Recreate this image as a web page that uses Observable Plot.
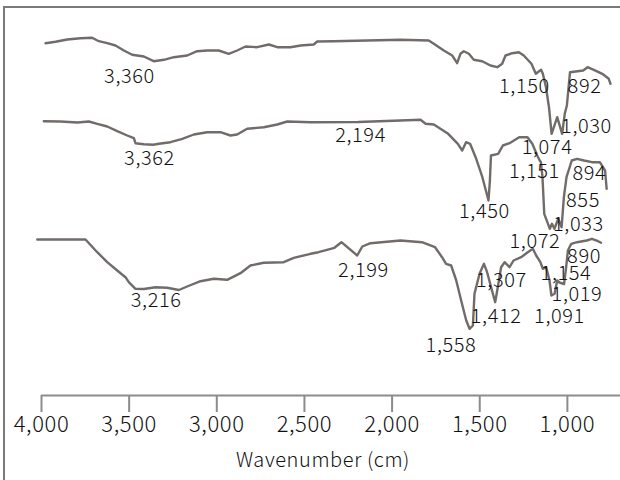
<!DOCTYPE html>
<html>
<head>
<meta charset="utf-8">
<script src="https://cdn.jsdelivr.net/npm/d3@7"></script>
<script src="https://cdn.jsdelivr.net/npm/@observablehq/plot@0.6"></script>
<style>
  html, body { margin: 0; padding: 0; background: #fff; }
  #wrap { position: relative; width: 620px; height: 480px; overflow: hidden; }
  #wrap svg { position: absolute; left: 0; top: 0; }
  #wrap svg text { font-weight: 300; letter-spacing: 0.6px; }
  #edge { position: absolute; left: 3px; top: 6px; width: 640px; height: 500px;
          border-top: 2px solid #7a7a7a; border-left: 2px solid #7a7a7a; pointer-events: none; }
</style>
</head>
<body>
<div id="wrap"><div id="edge"></div></div>
<script>
// FT-IR spectra: [wavenumber (cm-1), transmittance offset]
const spectrumTop = [
  [3977,352.3],[3920,353.7],[3853,356],[3778,357.3],[3711,357.7],[3673,354.3],[3625,352.3],
  [3578,350],[3530,345],[3483,340.7],[3416,339],[3360,334.3],[3302,335.7],[3245,338.3],
  [3169,340],[3112,344.3],[3055,345],[2989,345],[2932,341.7],[2884,345],[2836,349],
  [2770,348.3],[2703,351],[2655,348.3],[2580,348.3],[2522,350],[2447,351],[2427,354],
  [2334,354.3],[2142,355],[1952,355.7],[1791,355],[1762,351.7],[1705,345],[1657,340],
  [1629,332.3],[1610,341.7],[1591,344.3],[1562,341.7],[1534,335.7],[1486,334.3],[1439,330],
  [1400,328.3],[1372,331.7],[1353,340],[1315,342.3],[1277,343.3],[1249,340],[1205,331.7],
  [1180,321.7],[1150,325.7],[1140,321.7],[1122,308.3],[1105,288.3],[1090,261.7],[1058,278.3],
  [1030,261.7],[1015,281.7],[1003,290],[985,323.3],[910,325],[885,328.3],[849,325.7],
  [801,321.7],[764,316.7],[754,311.7]
];
const spectrumMiddle = [
  [3987,274.3],[3892,274],[3796,273],[3730,274],[3682,271.7],[3625,269],[3568,264.3],
  [3511,260],[3473,257.3],[3464,252.3],[3416,251.3],[3362,250.8],[3330,251.7],[3264,253.3],
  [3197,256.7],[3131,261],[3055,263.3],[2979,263.3],[2922,260],[2884,261],[2827,266.7],
  [2732,268.3],[2655,271],[2598,274],[2465,273.3],[2194,273.5],[1952,275],[1838,275.7],
  [1809,271.7],[1762,271],[1680,261.7],[1625,251.7],[1600,245],[1578,253.3],[1555,251.7],
  [1520,236.7],[1485,218.3],[1450,195],[1442,215],[1436,240],[1395,241.7],[1368,250],
  [1330,252.3],[1275,258.3],[1228,258.3],[1200,251.7],[1172,240],[1158,235],[1151,233.3],
  [1142,218.3],[1132,181.7],[1100,166.7],[1088,171.7],[1074,166.7],[1052,176.7],[1033,168.3],
  [1020,198.3],[1005,218.3],[975,235],[945,236.7],[905,235],[860,233.3],[815,233.3],
  [785,225],[776,206.7]
];
const spectrumBottom = [
  [4024,156],[3749,156],[3682,143.3],[3625,133.3],[3568,125],[3521,118.3],[3502,113.3],
  [3464,106.7],[3416,106.5],[3350,108.3],[3283,107.7],[3216,105.5],[3169,109],[3093,114.3],
  [3017,116.7],[2941,115.7],[2865,122.3],[2808,130],[2732,132.7],[2618,133.3],[2561,137.7],
  [2465,141.7],[2420,143.3],[2329,147.7],[2289,153.3],[2199,140],[2170,149],[2123,152.3],
  [1952,155],[1830,153.3],[1755,148.3],[1715,138.3],[1692,131.7],[1663,130],[1634,115],
  [1606,95],[1577,75],[1558,66.7],[1539,70],[1530,101.7],[1501,121.7],[1476,131.7],
  [1458,123.3],[1435,108.3],[1412,93.3],[1397,108.3],[1378,128.3],[1358,133.3],[1330,128.3],
  [1307,135],[1264,138.3],[1226,143.3],[1197,146.7],[1178,140],[1154,133.3],[1140,126.7],
  [1121,128.3],[1102,115],[1091,100],[1073,101.7],[1058,115],[1045,113],[1019,111.5],
  [1007,128.3],[997,145],[978,151.7],[945,153.3],[890,155],[860,156.7],[825,154.3],[808,152.7]
];

// Band assignments and where each annotation sits (wavenumber, transmittance)
const peakValues = [3360, 1150, 892, 1030, 3362, 2194, 1074, 1151, 894, 855, 1033,
                    1450, 1072, 890, 1154, 1019, 1307, 1412, 1091, 1558, 2199, 3216];
const peakLabelX = [3498, 1245, 902, 891, 3384, 2180, 1116, 1188, 874, 911, 937,
                    1473, 1185, 905, 1008, 945, 1376, 1406, 1045, 1664, 2163, 3346];
const peakLabelY = [319, 308.5, 308.5, 268.5, 237, 259.5, 248, 223.5, 221.5, 195, 171,
                    183.5, 153.5, 139, 122, 101, 115, 79, 79, 50, 125, 94.5];

const xTicks = [4000, 3500, 3000, 2500, 2000, 1500, 1000];
const xTitle = "Wavenumber (cm)";

const fmt = d3.format(",");
const lineStyle = {x: d => d[0], y: d => d[1], stroke: "#716c69", strokeWidth: 2.4,
                   strokeLinejoin: "round", curve: "linear"};

const chart = Plot.plot({
  width: 620,
  height: 480,
  marginLeft: 41,
  marginRight: 0,
  marginTop: 0,
  marginBottom: 85,
  style: {fontFamily: "'Noto Sans CJK KR', 'Liberation Sans', sans-serif", background: "transparent", color: "#111"},
  x: {domain: [4000, 697]},
  y: {domain: [0, 395], axis: null},
  marks: [
    Plot.ruleY([0], {stroke: "#8c8c8c", strokeWidth: 2}),
    Plot.axisX(xTicks, {tickSize: 17, tickPadding: 4, tickFormat: fmt, stroke: "#8c8c8c",
                        strokeWidth: 2, fill: "#111", fontSize: 22, label: null}),
    Plot.line(spectrumTop, lineStyle),
    Plot.line(spectrumMiddle, lineStyle),
    Plot.line(spectrumBottom, lineStyle),
    Plot.text(peakValues, {x: (d, i) => peakLabelX[i], y: (d, i) => peakLabelY[i],
                           text: d => fmt(d), fontSize: 20, fill: "#111"}),
    Plot.text([xTitle], {frameAnchor: "bottom", dx: -8, dy: 71, fontSize: 20, fill: "#111"})
  ]
});

document.getElementById("wrap").prepend(chart);
</script>
</body>
</html>
